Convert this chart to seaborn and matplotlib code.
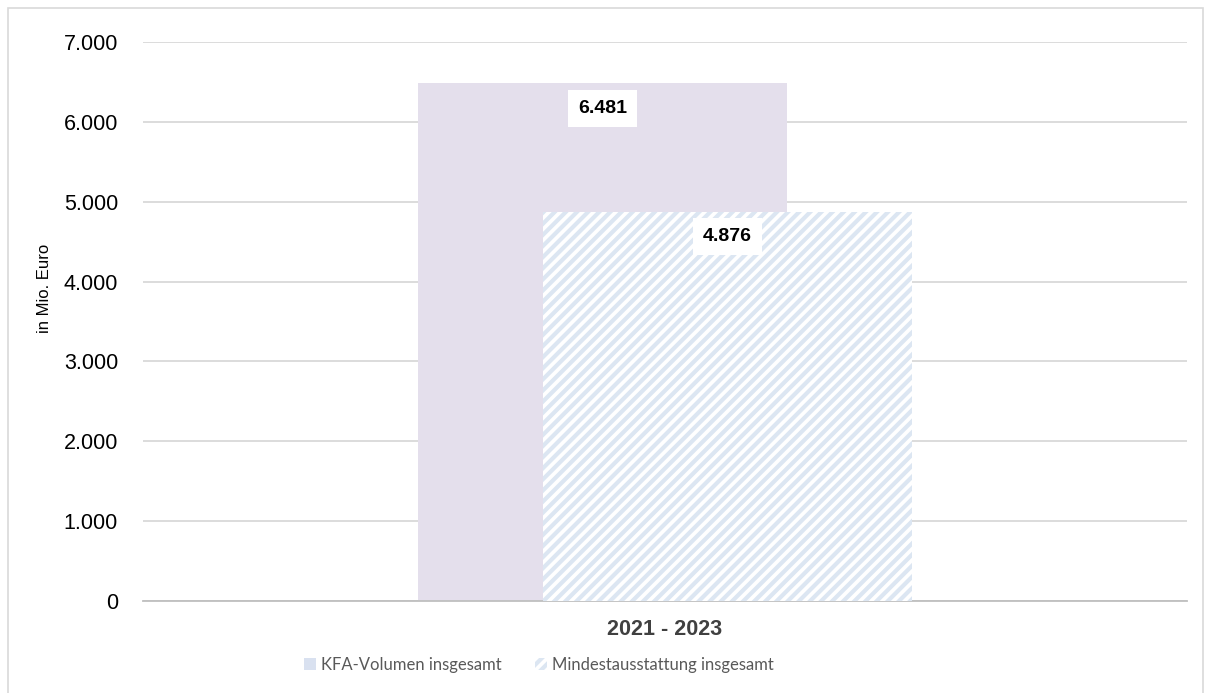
import numpy as np
import pandas as pd
import matplotlib
matplotlib.use("Agg")
import matplotlib.pyplot as plt
import seaborn as sns
from matplotlib.patches import Patch, Rectangle
from matplotlib.ticker import FuncFormatter

# data
zeitraum = ["2021 - 2023"]
reihen = ["KFA-Volumen insgesamt", "Mindestausstattung insgesamt"]
werte = [6481, 4876]

df = pd.DataFrame({
    "Zeitraum": zeitraum * len(reihen),
    "Reihe": reihen,
    "Wert": werte,
})

sns.set_theme(style="white")
plt.rcParams["font.family"] = ["Liberation Sans", "DejaVu Sans"]

lavender = "#E4DFEC"
stripe_blue = "#DCE6F2"
legend_blue = "#D9E1F0"
grid_grey = "#D9D9D9"

# hatch settings must be in place before the patches get created
plt.rcParams["hatch.linewidth"] = 3.0
plt.rcParams["hatch.color"] = stripe_blue

fig = plt.figure(figsize=(12.11, 6.93), dpi=100)
ax = fig.add_axes([143 / 1211, 1 - 601 / 693, (1187 - 143) / 1211, (601 - 42) / 693])

sns.barplot(data=df, x="Zeitraum", y="Wert", hue="Reihe",
            palette=[lavender, "white"], dodge=True, width=0.24, gap=-1.94,
            legend=False, ax=ax, saturation=1)

bars = ax.patches[:2]
bars[0].set_linewidth(0)
bars[1].set_facecolor("white")
bars[1].set_edgecolor(stripe_blue)
bars[1].set_hatch("///")
bars[1].set_linewidth(0)
bars[1].set_zorder(3)
bars[0].set_zorder(2)

# value labels inside the bars
for bar, v in zip(bars, werte):
    cx = bar.get_x() + bar.get_width() / 2
    ax.annotate(f"{v:,}".replace(",", "."), xy=(cx, v), xytext=(0, -18),
                textcoords="offset points", ha="center", va="center",
                fontsize=14, fontweight="bold", color="black", zorder=5,
                bbox=dict(boxstyle="square,pad=0.5", fc="white", ec="none"))

ax.set_ylim(0, 7000)
ax.set_xlim(-0.5, 0.5)
ax.set_yticks(np.arange(0, 7001, 1000))
ax.yaxis.set_major_formatter(FuncFormatter(lambda v, p: f"{int(v):,}".replace(",", ".")))
ax.grid(axis="y", color=grid_grey, linewidth=1.3, zorder=0)
ax.set_axisbelow(True)

for s in ["top", "right", "left"]:
    ax.spines[s].set_visible(False)
ax.spines["bottom"].set_color("#BFBFBF")
ax.spines["bottom"].set_linewidth(1.3)

ax.tick_params(axis="y", length=0, pad=18, labelsize=15.5, labelcolor="black")
ax.tick_params(axis="x", which="major", length=0, pad=13)
ax.set_xticks([-0.5, 0.5], minor=True)
ax.tick_params(axis="x", which="minor", length=6, width=1.3, color="#BFBFBF")
for lbl in ax.get_xticklabels():
    lbl.set_fontsize(15.5)
    lbl.set_fontweight("bold")
    lbl.set_color("#404040")

ax.set_xlabel("")
ax.set_ylabel("in Mio. Euro", fontsize=12, color="black")
ax.yaxis.set_label_coords(-0.087, 0.56)

handles = [
    Patch(facecolor=legend_blue, edgecolor="none", label=reihen[0]),
    Patch(facecolor="white", edgecolor=stripe_blue, hatch="///", linewidth=0, label=reihen[1]),
]
fig.legend(handles=handles, loc="center", bbox_to_anchor=(0.445, 1 - 665 / 693), ncol=2,
           frameon=False, handlelength=0.75, handleheight=0.75, handletextpad=0.3,
           columnspacing=2.0, prop={"family": "Lato", "size": 12}, labelcolor="#595959")

fig.add_artist(Rectangle((8 / 1211, -0.02), (1203 - 8) / 1211, 1 - 8 / 693 + 0.02,
                         transform=fig.transFigure, fill=False, edgecolor=grid_grey, linewidth=1.2))

fig.savefig("out.png", dpi=100)
